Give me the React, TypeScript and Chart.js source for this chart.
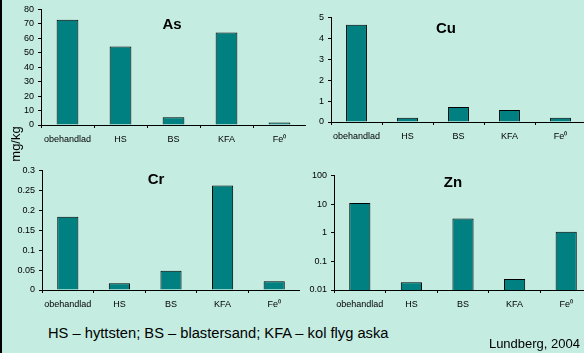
import React, { useEffect, useRef } from "react";
import { Chart, registerables } from "chart.js";

Chart.register(...registerables);

// ---- data ----
const categories = ["obehandlad", "HS", "BS", "KFA", "Fe⁰"];
const asValues = [72.9, 54.4, 5.3, 64, 1.8];
const cuValues = [4.65, 0.2, 0.72, 0.57, 0.2];
const crValues = [0.184, 0.017, 0.048, 0.262, 0.022];
const znValues = [10.8, 0.0185, 3.1, 0.024, 1.08];
const znTickValues = [0.01, 0.1, 1, 10, 100];
const footerText = "HS – hyttsten; BS – blastersand; KFA – kol flyg aska";
const sourceText = "Lundberg, 2004";
const unitText = "mg/kg";

const FONT = "Arial, 'Liberation Sans', sans-serif";
const BG = "#C4ECE0";
const BAR = "#008080";

type PanelProps = {
  title: string;
  values: number[];
  left: number;
  top: number;
  width: number;
  height: number;
  axisW: number;
  padTop: number;
  yMax: number;
  yStep?: number;
  log?: boolean;
  titleX: number;
  titleY: number;
};

function fmt(v: number) {
  return String(Number(v.toFixed(3)));
}

function Panel(p: PanelProps) {
  const ref = useRef<HTMLCanvasElement | null>(null);
  useEffect(() => {
    if (!ref.current) return;
    const yScale: any = p.log
      ? {
          type: "logarithmic",
          min: 0.01,
          max: 100,
          afterBuildTicks: (s: any) => {
            s.ticks = znTickValues.map((v) => ({ value: v }));
          },
        }
      : {
          type: "linear",
          min: 0,
          max: p.yMax,
          ticks: { stepSize: p.yStep },
        };
    const chart = new Chart(ref.current, {
      type: "bar",
      data: {
        labels: categories,
        datasets: [
          {
            data: p.values,
            backgroundColor: BAR,
            borderColor: "#000",
            borderWidth: 1,
            barPercentage: 0.41,
            categoryPercentage: 1,
          },
        ],
      },
      options: {
        responsive: false,
        animation: false,
        devicePixelRatio: 1,
        layout: { padding: { top: p.padTop, right: 0, left: 0, bottom: 0 } },
        plugins: { legend: { display: false }, tooltip: { enabled: false }, title: { display: false } },
        scales: {
          x: {
            offset: true,
            grid: {
              offset: true,
              drawOnChartArea: false,
              drawTicks: true,
              tickLength: 3,
              color: "#000",
            },
            border: { display: true, color: "#000", width: 1 },
            ticks: {
              font: { family: FONT, size: 9 },
              color: "#000",
              padding: 6,
              maxRotation: 0,
              autoSkip: false,
            },
            afterFit: (s: any) => {
              s.height = 25;
            },
          },
          y: {
            ...yScale,
            grid: {
              drawOnChartArea: false,
              drawTicks: true,
              tickLength: 3,
              color: "#000",
            },
            border: { display: true, color: "#000", width: 1 },
            ticks: {
              ...(yScale.ticks || {}),
              font: { family: FONT, size: 9 },
              color: "#000",
              padding: 4,
              autoSkip: false,
              callback: (v: any) => fmt(Number(v)),
            },
            afterFit: (s: any) => {
              s.width = p.axisW;
            },
          },
        },
      },
    });
    return () => chart.destroy();
  }, []);
  return (
    <>
      <canvas
        ref={ref}
        width={p.width}
        height={p.height}
        style={{ position: "absolute", left: p.left, top: p.top, width: p.width, height: p.height }}
      />
      <div
        style={{
          position: "absolute",
          left: p.titleX,
          top: p.titleY,
          transform: "translate(-50%, -50%)",
          font: `bold 15px ${FONT}`,
          lineHeight: 1,
          color: "#000",
          whiteSpace: "nowrap",
        }}
      >
        {p.title}
      </div>
    </>
  );
}

export default function App() {
  return (
    <div
      style={{
        position: "fixed",
        left: 0,
        top: 0,
        width: 584,
        height: 353,
        background: BG,
        overflow: "hidden",
        fontFamily: FONT,
      }}
    >
      <div style={{ position: "absolute", left: 0, top: 0, width: 2, height: 353, background: "#000" }} />
      <Panel title="As" values={asValues} left={0} top={0} width={306} height={150} axisW={41} padTop={9} yMax={80} yStep={10} titleX={172} titleY={23} />
      <Panel title="Cu" values={cuValues} left={292} top={8} width={294} height={139} axisW={39} padTop={8} yMax={5} yStep={1} titleX={446} titleY={27} />
      <Panel title="Cr" values={crValues} left={0} top={161} width={300} height={154} axisW={42} padTop={8} yMax={0.3} yStep={0.05} titleX={156} titleY={178} />
      <Panel title="Zn" values={znValues} left={292} top={166} width={300} height={149} axisW={42} padTop={8} yMax={100} log titleX={453} titleY={181} />
      <div
        style={{
          position: "absolute",
          left: 15,
          top: 144,
          transform: "translate(-50%, -50%) rotate(-90deg)",
          fontSize: 13,
          lineHeight: 1,
          color: "#000",
          whiteSpace: "nowrap",
        }}
      >
        {unitText}
      </div>
      <div
        style={{
          position: "absolute",
          left: 48,
          top: 326,
          fontSize: 14.7,
          lineHeight: 1,
          color: "#000",
          whiteSpace: "nowrap",
        }}
      >
        {footerText}
      </div>
      <div
        style={{
          position: "absolute",
          right: 4,
          top: 337,
          fontSize: 13,
          lineHeight: 1,
          color: "#000",
          whiteSpace: "nowrap",
        }}
      >
        {sourceText}
      </div>
    </div>
  );
}
